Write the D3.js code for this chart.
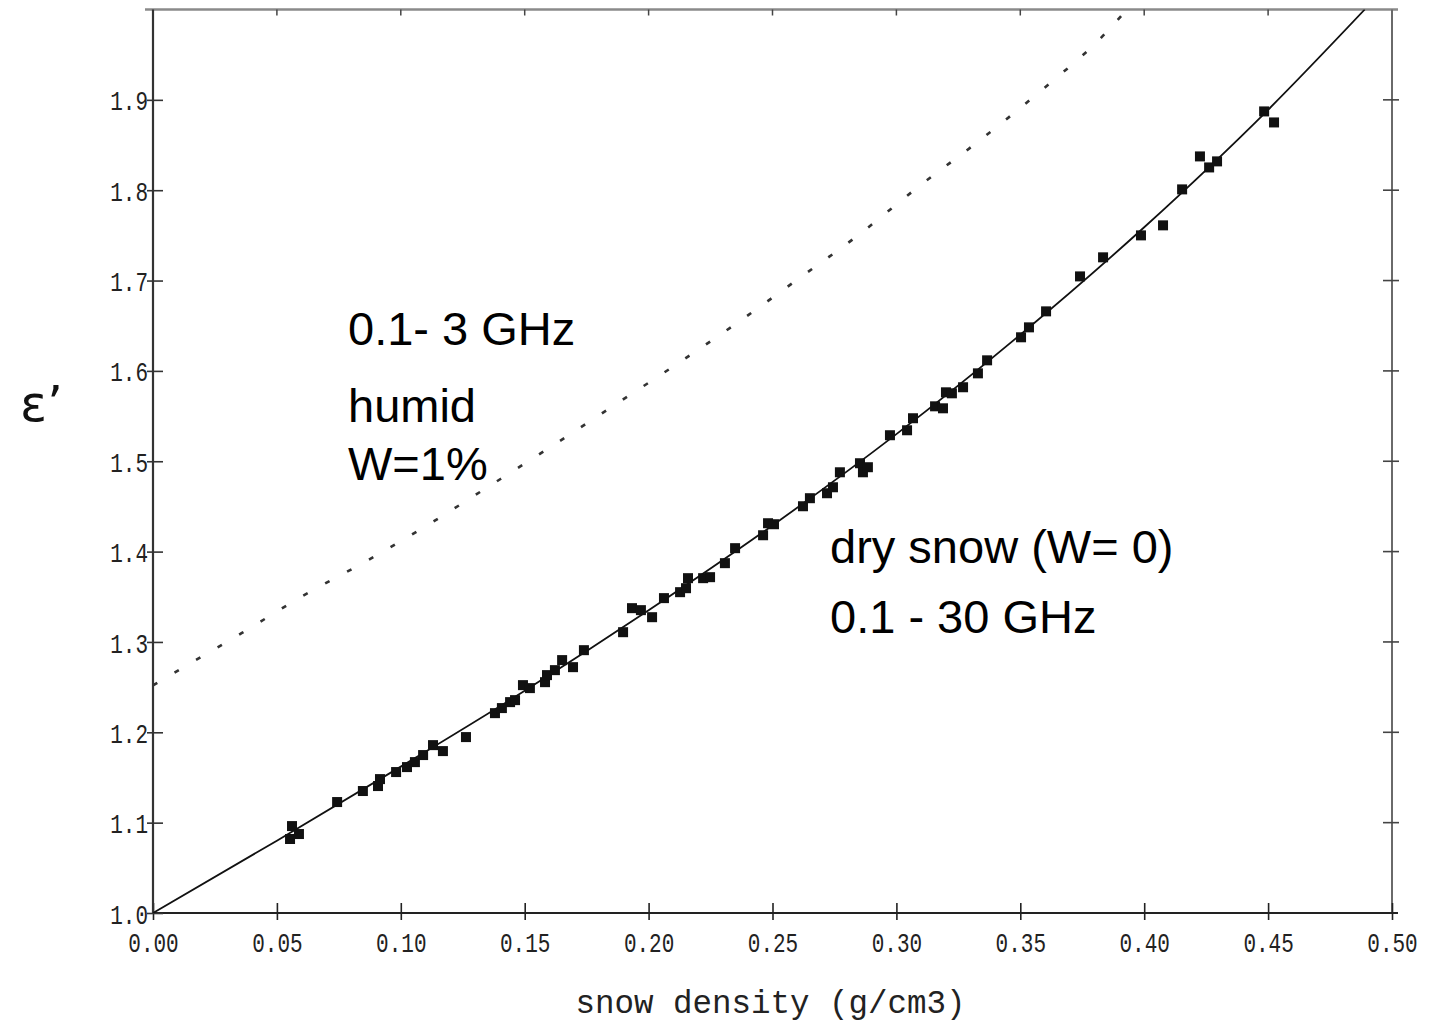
<!DOCTYPE html>
<html><head><meta charset="utf-8">
<script src="https://cdn.jsdelivr.net/npm/d3@7"></script>
<style>body{margin:0;background:#fff;} svg{display:block;}</style>
</head><body>
<svg id="chart" width="1433" height="1024"></svg>
<script>
// ---------- data ----------
const xTickValues = [0.00, 0.05, 0.10, 0.15, 0.20, 0.25, 0.30, 0.35, 0.40, 0.45, 0.50];
const yTickValues = [1.0, 1.1, 1.2, 1.3, 1.4, 1.5, 1.6, 1.7, 1.8, 1.9];

// dry snow curve (solid)
const dryRho = [0.00, 0.05, 0.10, 0.15, 0.20, 0.25, 0.30, 0.35, 0.40, 0.45, 0.489];
const dryEps = [1.000, 1.080, 1.162, 1.246, 1.335, 1.429, 1.530, 1.640, 1.759, 1.889, 2.000];

// humid snow W=1% curve (dotted)
const humidRho = [0.000, 0.0117, 0.0359, 0.0605, 0.0864, 0.1118, 0.136, 0.160, 0.1856, 0.210, 0.2357, 0.260, 0.2845, 0.309, 0.3345, 0.3596, 0.3834, 0.393];
const humidEps = [1.252, 1.271, 1.310, 1.351, 1.390, 1.431, 1.473, 1.515, 1.561, 1.605, 1.653, 1.701, 1.750, 1.804, 1.857, 1.913, 1.971, 2.000];

// measured points
const measRho = [0.0553, 0.0561, 0.0589, 0.0743, 0.0847, 0.0908, 0.0916, 0.0981, 0.1025, 0.1057,
  0.1090, 0.1130, 0.1170, 0.1263, 0.1380, 0.1408, 0.1441, 0.1461, 0.1493, 0.1521,
  0.1582, 0.1590, 0.1622, 0.1651, 0.1695, 0.1739, 0.1897, 0.1933, 0.1969, 0.2014,
  0.2062, 0.2127, 0.2159, 0.2151, 0.2220, 0.2248, 0.2308, 0.2349, 0.2462, 0.2482,
  0.2506, 0.2623, 0.2651, 0.2720, 0.2744, 0.2772, 0.2853, 0.2865, 0.2885, 0.2974,
  0.3043, 0.3067, 0.3156, 0.3188, 0.3200, 0.3224, 0.3269, 0.3329, 0.3366, 0.3503,
  0.3535, 0.3604, 0.3741, 0.3834, 0.3987, 0.4076, 0.4153, 0.4225, 0.4262, 0.4294,
  0.4484, 0.4524];
const measEps = [1.0819, 1.0962, 1.0874, 1.1228, 1.1350, 1.1405, 1.1482, 1.1560, 1.1615, 1.1670,
  1.1748, 1.1858, 1.1792, 1.1947, 1.2212, 1.2268, 1.2334, 1.2356, 1.2522, 1.2489,
  1.2555, 1.2633, 1.2688, 1.2799, 1.2721, 1.2909, 1.3108, 1.3374, 1.3352, 1.3274,
  1.3485, 1.3551, 1.3706, 1.3595, 1.3706, 1.3717, 1.3872, 1.4038, 1.4181, 1.4314,
  1.4303, 1.4502, 1.4591, 1.4646, 1.4712, 1.4878, 1.4978, 1.4878, 1.4934, 1.5288,
  1.5343, 1.5476, 1.5608, 1.5586, 1.5763, 1.5752, 1.5819, 1.5973, 1.6117, 1.6372,
  1.6482, 1.6659, 1.7046, 1.7257, 1.7500, 1.7611, 1.8009, 1.8374, 1.8252, 1.8319,
  1.8872, 1.8750];

const xTitle = "snow density (g/cm3)";
const yTitle = "\u03B5\u2019";
const humidLabels = ["0.1- 3 GHz", "humid", "W=1%"];
const dryLabels = ["dry snow (W= 0)", "0.1 - 30 GHz"];

// ---------- layout ----------
const svg = d3.select("#chart");
const L = 153, R = 1392, T = 9.5, B = 913;
const x = d3.scaleLinear().domain([0, 0.5]).range([L, R]);
const y = d3.scaleLinear().domain([1.0, 2.0]).range([B, T]);

const monoFont = "'Liberation Mono', 'Courier New', monospace";
const sansFont = "'Liberation Sans', Arial, sans-serif";
const tickFs = 28, condense = 0.75;

svg.append("defs").append("clipPath").attr("id", "plotclip")
  .append("rect").attr("x", L).attr("y", T).attr("width", R - L).attr("height", B - T);

// frame: top and right in grey
svg.append("line").attr("x1", L - 8).attr("x2", R + 6).attr("y1", T).attr("y2", T)
  .attr("stroke", "#8a8a8a").attr("stroke-width", 2.5);
svg.append("line").attr("x1", R).attr("x2", R).attr("y1", T).attr("y2", B)
  .attr("stroke", "#6a6a6a").attr("stroke-width", 2);

// bottom axis
const gx = svg.append("g").attr("transform", `translate(0,${B})`)
  .call(d3.axisBottom(x).tickValues(xTickValues).tickFormat(d3.format(".2f")).tickSize(7).tickPadding(12));
gx.select(".domain").attr("stroke", "#222").attr("stroke-width", 1.8).attr("d", `M${L},0H${R + 6}`);
gx.selectAll(".tick line").attr("y1", -10).attr("y2", 7).attr("stroke", "#222").attr("stroke-width", 1.6);
gx.selectAll(".tick text").attr("font-family", monoFont).attr("font-size", tickFs).attr("fill", "#222")
  .attr("transform", `scale(${condense},1)`);

// left axis
const gy = svg.append("g").attr("transform", `translate(${L},0)`)
  .call(d3.axisLeft(y).tickValues(yTickValues).tickFormat(d3.format(".1f")).tickSize(6).tickPadding(2));
gy.select(".domain").attr("stroke", "#333").attr("stroke-width", 2.2).attr("d", `M0,${B}V${T}`);
gy.selectAll(".tick line").attr("x1", -6).attr("x2", 10).attr("stroke", "#333").attr("stroke-width", 1.6);
gy.selectAll(".tick text").attr("font-family", monoFont).attr("font-size", tickFs).attr("fill", "#222")
  .attr("dy", "0.36em").attr("x", 0).attr("transform", `translate(-5,0) scale(${condense},1)`);

// top ticks (inward, short)
svg.append("g").selectAll("line").data(xTickValues.slice(1, -1)).join("line")
  .attr("x1", d => x(d)).attr("x2", d => x(d)).attr("y1", T).attr("y2", T + 6)
  .attr("stroke", "#444").attr("stroke-width", 1.5);

// right ticks (crossing)
svg.append("g").selectAll("line").data(yTickValues.slice(1)).join("line")
  .attr("x1", R - 9).attr("x2", R + 7).attr("y1", d => y(d)).attr("y2", d => y(d))
  .attr("stroke", "#444").attr("stroke-width", 1.6);

const plot = svg.append("g").attr("clip-path", "url(#plotclip)");

// humid dotted curve
const humid = humidRho.map((r, i) => [r, humidEps[i]]);
plot.append("path").datum(humid)
  .attr("d", d3.line().x(d => x(d[0])).y(d => y(d[1])).curve(d3.curveMonotoneX))
  .attr("fill", "none").attr("stroke", "#333").attr("stroke-width", 2.6)
  .attr("stroke-dasharray", "5,20");

// dry solid curve
const dry = dryRho.map((r, i) => [r, dryEps[i]]);
plot.append("path").datum(dry)
  .attr("d", d3.line().x(d => x(d[0])).y(d => y(d[1])).curve(d3.curveMonotoneX))
  .attr("fill", "none").attr("stroke", "#111").attr("stroke-width", 1.8);

// measured squares
const sq = 10;
const meas = measRho.map((r, i) => [r, measEps[i]]);
plot.append("g").selectAll("rect").data(meas).join("rect")
  .attr("x", d => x(d[0]) - sq / 2).attr("y", d => y(d[1]) - sq / 2)
  .attr("width", sq).attr("height", sq).attr("fill", "#111");

// annotations
const fs = 47;
svg.append("text").attr("x", 348).attr("y", 345).attr("font-family", sansFont).attr("font-size", fs).text(humidLabels[0]);
svg.append("text").attr("x", 348).attr("y", 422).attr("font-family", sansFont).attr("font-size", fs).text(humidLabels[1]);
svg.append("text").attr("x", 348).attr("y", 480).attr("font-family", sansFont).attr("font-size", fs).text(humidLabels[2]);
svg.append("text").attr("x", 830).attr("y", 563).attr("font-family", sansFont).attr("font-size", fs).text(dryLabels[0]);
svg.append("text").attr("x", 830).attr("y", 633).attr("font-family", sansFont).attr("font-size", fs).text(dryLabels[1]);

// axis titles
svg.append("text").attr("x", (L + R) / 2 - 2).attr("y", 1013).attr("text-anchor", "middle")
  .attr("font-family", monoFont).attr("font-size", 32.5).attr("fill", "#222").text(xTitle);
svg.append("text").attr("x", 20).attr("y", 421).attr("font-family", "'DejaVu Sans', sans-serif")
  .attr("font-size", 50).attr("fill", "#111").text(yTitle);
</script>
</body></html>
